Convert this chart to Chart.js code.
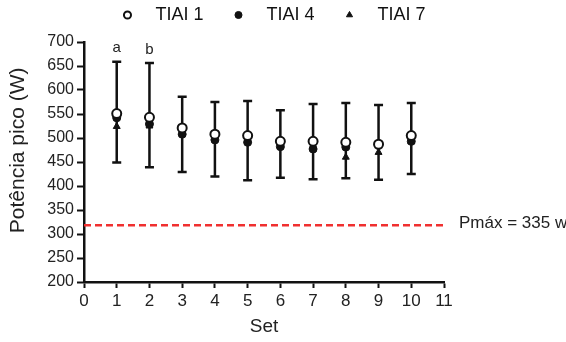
<!DOCTYPE html>
<html>
<head>
<meta charset="utf-8">
<script src="https://cdn.jsdelivr.net/npm/chart.js@4.4.0/dist/chart.umd.min.js"></script>
<style>
html, body { margin: 0; padding: 0; background: #fff; }
#wrap { width: 566px; height: 342px; position: relative; }
</style>
</head>
<body>
<div id="wrap"><canvas id="myChart"></canvas></div>
<script>
var sets = [1, 2, 3, 4, 5, 6, 7, 8, 9, 10];
var tiai1 = [551, 543, 521, 508, 505, 493, 493, 491, 487, 505];
var tiai4 = [542, 529, 508, 496, 491, 482, 477, 481, 488, 493];
var tiai7 = [524, 525, 510, 498, 494, 484, 482, 460, 470, 493];
var errHigh = [659, 656, 586, 575, 577, 558, 571, 573, 569, 573];
var errLow = [449, 439, 429, 420, 412, 417, 414, 416, 413, 425];
var pmax = 318;
var pmaxLabel = 'Pmáx = 335 w';
var letters = ['a', 'b'];

var fontFamily = '"Liberation Sans", Arial, sans-serif';

function points(values) {
    return values.map(function (v, i) { return { x: sets[i], y: v }; });
}

// legend sits higher and a bit to the right, like the original figure
var legendSpace = {
    id: 'legendSpace',
    beforeInit: function (chart) {
        var fit = chart.legend.fit;
        chart.legend.fit = function () {
            fit.bind(chart.legend)();
            this.height -= 12;
        };
    },
    afterLayout: function (chart) {
        var lg = chart.legend;
        lg.top -= 20;
        lg.bottom -= 20;
        lg.left += 50;
        lg.right += 50;
    }
};

var errorBars = {
    id: 'errorBars',
    beforeDatasetsDraw: function (chart) {
        var c = chart.ctx, x = chart.scales.x, y = chart.scales.y;
        c.save();
        c.strokeStyle = '#111';
        c.lineWidth = 2.5;
        for (var i = 0; i < sets.length; i++) {
            var px = x.getPixelForValue(sets[i]);
            var top = y.getPixelForValue(errHigh[i]);
            var bot = y.getPixelForValue(errLow[i]);
            c.beginPath();
            c.moveTo(px, top); c.lineTo(px, bot);
            c.moveTo(px - 4.5, top); c.lineTo(px + 4.5, top);
            c.moveTo(px - 4.5, bot); c.lineTo(px + 4.5, bot);
            c.stroke();
        }
        c.restore();
    }
};

var labelsPlugin = {
    id: 'labelsPlugin',
    afterDraw: function (chart) {
        var c = chart.ctx, x = chart.scales.x, y = chart.scales.y;
        c.save();
        c.fillStyle = '#222';
        c.textAlign = 'center';
        c.textBaseline = 'bottom';
        c.font = '15px ' + fontFamily;
        for (var i = 0; i < letters.length; i++) {
            c.fillText(letters[i], x.getPixelForValue(sets[i]), y.getPixelForValue(errHigh[i]) - 6);
        }
        c.textAlign = 'left';
        c.textBaseline = 'middle';
        c.font = '17px ' + fontFamily;
        c.fillText(pmaxLabel, chart.chartArea.right + 15, y.getPixelForValue(pmax) - 2);
        c.restore();
    }
};

var ctx = document.getElementById('myChart');
var myChart = new Chart(ctx, {
    type: 'scatter',
    data: {
        datasets: [{
            label: 'TIAI 1',
            data: points(tiai1),
            pointStyle: 'circle',
            pointRadius: 4.5,
            pointBackgroundColor: '#fff',
            pointBorderColor: '#111',
            pointBorderWidth: 2,
            backgroundColor: '#fff',
            borderColor: '#111'
        }, {
            label: 'TIAI 4',
            data: points(tiai4),
            pointStyle: 'circle',
            pointRadius: 4,
            pointBackgroundColor: '#111',
            pointBorderColor: '#111',
            pointBorderWidth: 1,
            backgroundColor: '#111',
            borderColor: '#111'
        }, {
            label: 'TIAI 7',
            data: points(tiai7),
            pointStyle: 'triangle',
            pointRadius: 4,
            pointBackgroundColor: '#111',
            pointBorderColor: '#111',
            pointBorderWidth: 1,
            backgroundColor: '#111',
            borderColor: '#111'
        }, {
            type: 'line',
            label: 'Pmax',
            data: [{ x: 0, y: pmax }, { x: 11, y: pmax }],
            borderColor: '#f03030',
            borderWidth: 2.5,
            borderDash: [7, 4],
            pointRadius: 0,
            fill: false
        }]
    },
    options: {
        responsive: true,
        maintainAspectRatio: false,
        animation: false,
        layout: { padding: { top: 0, right: 122, bottom: 0, left: 0 } },
        plugins: {
            tooltip: { enabled: false },
            legend: {
                position: 'top',
                labels: {
                    usePointStyle: true,
                    boxWidth: 18,
                    boxHeight: 5,
                    padding: 26,
                    color: '#111',
                    font: { family: fontFamily, size: 18 },
                    generateLabels: function (chart) {
                        var items = Chart.defaults.plugins.legend.labels.generateLabels(chart);
                        items.forEach(function (it) { it.text = '  ' + it.text; });
                        return items;
                    },
                    filter: function (item) { return item.datasetIndex !== 3; }
                }
            }
        },
        scales: {
            x: {
                type: 'linear',
                min: 0,
                max: 11,
                afterFit: function (s) { s.height = 60; },
                ticks: { stepSize: 1, autoSkip: false, color: '#222', padding: 3, font: { family: fontFamily, size: 17 } },
                grid: { drawOnChartArea: false, drawTicks: true, tickLength: 6, tickColor: '#111', tickWidth: 2 },
                border: { color: '#111', width: 2.5 },
                title: { display: true, text: 'Set', color: '#222', padding: { top: 0, bottom: 4 }, font: { family: fontFamily, size: 19 } }
            },
            y: {
                min: 200,
                max: 700,
                afterFit: function (s) { s.width = 84; },
                ticks: { stepSize: 50, autoSkip: false, color: '#222', padding: 3, font: { family: fontFamily, size: 16 } },
                grid: { drawOnChartArea: false, drawTicks: true, tickLength: 7, tickColor: '#111', tickWidth: 2 },
                border: { color: '#111', width: 2.5 },
                title: { display: true, text: '    Potência pico (W)', color: '#222', padding: { top: 6, bottom: 0 }, font: { family: fontFamily, size: 21 } }
            }
        }
    },
    plugins: [legendSpace, errorBars, labelsPlugin]
});
</script>
</body>
</html>
